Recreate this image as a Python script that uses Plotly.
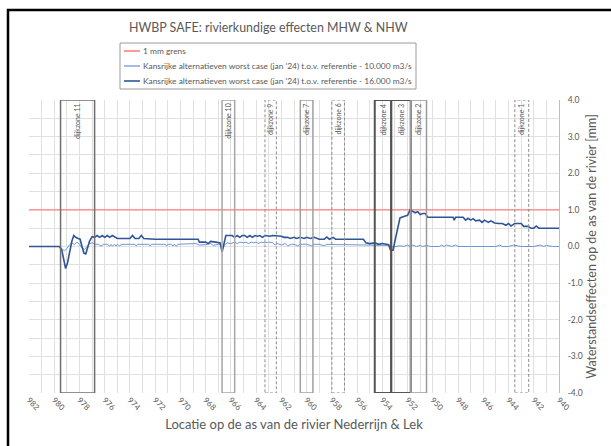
import plotly.graph_objects as go

# ---------------- data ----------------
x_ticks = [982, 980, 978, 976, 974, 972, 970, 968, 966, 964, 962, 960, 958, 956, 954, 952, 950, 948, 946, 944, 942, 940]
y_ticks = [4.0, 3.0, 2.0, 1.0, 0.0, -1.0, -2.0, -3.0, -4.0]

grens_km = [982.0, 940.0]
grens_val = [1.0, 1.0]

light_km = [
    982.0, 981.0, 980.0, 979.6, 979.4, 979.2, 979.0, 978.8, 978.6, 978.4,
    978.2, 978.0, 977.8, 977.6, 977.4, 977.2, 977.0, 976.7, 976.5, 976.3,
    976.1, 975.8, 975.6, 975.5, 975.4, 975.2, 975.1, 975.0, 974.8, 974.7,
    974.0, 973.6, 973.5, 973.4, 972.5, 972.4, 972.3, 971.2, 971.1, 971.0,
    970.7, 970.6, 970.5, 970.3, 970.2, 969.5, 969.0, 968.8, 968.5, 968.0,
    967.6, 967.4, 967.0, 966.8, 966.65, 966.5, 966.3, 966.0, 965.7, 965.5,
    965.3, 965.0, 964.8, 964.6, 964.4, 964.2, 964.0, 963.8, 963.6, 963.3,
    963.0, 962.7, 962.5, 962.3, 962.0, 961.7, 961.5, 961.2, 961.0, 960.7,
    960.5, 960.0, 959.6, 959.4, 959.0, 958.6, 958.4, 958.0, 957.5, 957.0,
    956.5, 956.0, 955.5, 955.0, 954.5, 954.0, 953.5, 953.3, 953.0, 952.6,
    952.3, 952.0, 951.8, 951.6, 951.3, 951.0, 950.8, 950.5, 950.2, 950.0,
    949.5, 949.3, 949.1, 948.9, 948.5, 948.2, 948.0, 947.0, 946.0, 945.5,
    945.0, 944.7, 944.5, 944.0, 943.6, 943.0, 942.0, 941.5, 941.2, 941.0,
    940.5, 940.0,
]
light_val = [
    0.00, 0.00, 0.00, 0.00, -0.05, -0.12, -0.06, 0.04, 0.10, 0.05,
    0.12, 0.06, -0.04, -0.08, 0.00, 0.08, 0.10, 0.06, 0.06, 0.01,
    0.06, 0.06, 0.01, 0.06, 0.01, 0.06, 0.01, 0.06, 0.01, 0.06,
    0.06, 0.06, 0.01, 0.06, 0.06, 0.01, 0.06, 0.06, 0.01, 0.06,
    0.06, 0.01, 0.06, 0.01, 0.06, 0.06, 0.06, 0.08, 0.04, 0.05,
    0.08, 0.03, 0.06, 0.04, -0.06, 0.05, 0.10, 0.08, 0.12, 0.08,
    0.12, 0.10, 0.12, 0.08, 0.12, 0.10, 0.12, 0.08, 0.12, 0.10,
    0.12, 0.10, 0.04, 0.08, 0.04, 0.08, 0.02, 0.06, 0.06, 0.02,
    0.06, 0.06, 0.02, 0.06, 0.06, 0.02, 0.06, 0.05, 0.05, 0.05,
    0.05, 0.05, 0.04, 0.03, 0.04, 0.03, 0.03, -0.02, 0.00, 0.02,
    0.00, 0.04, 0.00, 0.04, 0.00, 0.03, 0.00, 0.03, 0.00, 0.00,
    0.00, 0.04, 0.00, 0.04, 0.00, 0.04, 0.00, 0.00, 0.00, 0.00,
    0.00, 0.04, 0.00, 0.00, 0.04, 0.00, 0.00, 0.04, 0.00, 0.03,
    0.00, 0.00,
]

dark_km = [
    982.0, 981.0, 980.0, 979.6, 979.4, 979.25, 979.1, 978.95, 978.8, 978.6,
    978.45, 978.3, 978.1, 977.95, 977.8, 977.65, 977.5, 977.35, 977.2, 977.0,
    976.8, 976.6, 976.4, 976.2, 976.0, 975.8, 975.6, 975.4, 975.2, 975.0,
    974.5, 974.0, 973.8, 973.6, 973.3, 973.1, 972.9, 972.0, 971.0, 970.0,
    969.0, 968.6, 968.5, 968.0, 967.8, 967.6, 967.2, 967.0, 966.85, 966.7,
    966.55, 966.4, 966.2, 965.9, 965.7, 965.5, 965.3, 965.1, 964.9, 964.7,
    964.5, 964.3, 964.1, 963.9, 963.7, 963.5, 963.3, 963.1, 962.9, 962.7,
    962.2, 962.0, 961.8, 961.5, 961.3, 961.0, 960.8, 960.5, 960.2, 960.0,
    959.7, 959.4, 959.0, 958.6, 958.4, 958.2, 957.9, 957.7, 957.0, 956.0,
    955.5, 955.3, 955.0, 954.6, 954.3, 954.0, 953.7, 953.5, 953.35, 953.15,
    953.0, 952.8, 952.6, 952.3, 952.0, 951.8, 951.6, 951.4, 951.2, 951.0,
    950.8, 950.6, 950.4, 950.0, 949.0, 948.4, 948.3, 948.2, 947.6, 947.4,
    947.2, 947.0, 946.8, 946.6, 946.3, 946.1, 945.9, 945.6, 945.4, 945.1,
    944.8, 944.5, 944.2, 944.0, 943.8, 943.5, 943.3, 943.0, 942.8, 942.5,
    942.2, 942.0, 941.8, 941.6, 941.0, 940.0,
]
dark_val = [
    0.00, 0.00, 0.00, 0.00, -0.10, -0.40, -0.60, -0.45, -0.15, 0.15,
    0.30, 0.25, 0.22, 0.20, 0.00, -0.18, -0.20, -0.05, 0.15, 0.27,
    0.25, 0.30, 0.25, 0.30, 0.25, 0.30, 0.25, 0.30, 0.25, 0.22,
    0.22, 0.22, 0.30, 0.22, 0.22, 0.30, 0.22, 0.20, 0.20, 0.20,
    0.20, 0.20, 0.12, 0.12, 0.08, 0.14, 0.12, 0.10, 0.10, -0.15,
    0.05, 0.30, 0.30, 0.30, 0.25, 0.30, 0.25, 0.30, 0.30, 0.25,
    0.30, 0.25, 0.30, 0.28, 0.30, 0.25, 0.30, 0.28, 0.28, 0.30,
    0.30, 0.28, 0.25, 0.25, 0.22, 0.25, 0.22, 0.25, 0.22, 0.25,
    0.22, 0.25, 0.20, 0.20, 0.26, 0.20, 0.25, 0.20, 0.20, 0.20,
    0.20, 0.10, 0.08, 0.10, 0.06, 0.08, 0.05, 0.05, -0.10, -0.10,
    0.15, 0.50, 0.78, 0.82, 0.85, 1.00, 0.97, 0.92, 0.95, 0.87,
    0.90, 0.90, 0.80, 0.80, 0.80, 0.80, 0.72, 0.80, 0.80, 0.72,
    0.77, 0.72, 0.76, 0.70, 0.72, 0.66, 0.72, 0.66, 0.70, 0.64,
    0.63, 0.63, 0.58, 0.63, 0.56, 0.63, 0.63, 0.63, 0.55, 0.55,
    0.50, 0.50, 0.56, 0.50, 0.50, 0.50,
]

series_names = [
    "1 mm grens",
    "Kansrijke alternatieven worst case (jan '24) t.o.v. referentie - 10.000 m3/s",
    "Kansrijke alternatieven worst case (jan '24) t.o.v. referentie - 16.000 m3/s",
]

zone_names = ["dijkzone 11", "dijkzone 10", "dijkzone 9", "dijkzone 7", "dijkzone 6",
              "dijkzone 4", "dijkzone 3", "dijkzone 2", "dijkzone 1"]
zone_start = [979.5, 966.7, 963.3, 960.5, 958.0, 954.6, 953.3, 951.75, 943.5]
zone_end = [976.8, 965.7, 962.4, 959.5, 957.0, 953.3, 951.75, 950.5, 942.4]

# styles per zone (color, width, dash)
DASH = "3px,2px"
zone_styles = [
    ("#6f6f6f", 1.5, "solid"),
    ("#a6a6a6", 1.5, "solid"),
    ("#8c8c8c", 1.0, DASH),
    ("#a0a0a0", 1.5, "solid"),
    ("#8c8c8c", 1.0, DASH),
    ("#555555", 2.0, "solid"),
    ("#555555", 2.0, "solid"),
    ("#9a9a9a", 1.5, "solid"),
    ("#8c8c8c", 1.0, DASH),
]
series_colors = ["#ff8080", "#6f95d6", "#2f5597"]
series_widths = [1.2, 1.0, 1.6]

FONT = "Lato, 'Open Sans', sans-serif"
GRAY = "#595959"

# plot area in pixels
PL, PR, PT, PB = 29, 559, 100, 393


def px(x):
    return (x - PL) / (PR - PL)


def py(y):
    return (PB - y) / (PB - PT)


fig = go.Figure()
for xs, ys, nm, c, w in zip([grens_km, light_km, dark_km], [grens_val, light_val, dark_val],
                            series_names, series_colors, series_widths):
    fig.add_trace(go.Scatter(x=xs, y=ys, mode="lines", name=nm, showlegend=False,
                             line=dict(color=c, width=w), hoverinfo="skip"))

shapes = []
annotations = []
for name, s, e, (col, w, d) in zip(zone_names, zone_start, zone_end, zone_styles):
    shapes.append(dict(type="rect", xref="x", yref="y", x0=s, x1=e, y0=-4.0, y1=4.0,
                       line=dict(color=col, width=w, dash=d), fillcolor="rgba(0,0,0,0)",
                       layer="above"))
    annotations.append(dict(x=(s + e) / 2, y=3.95, xref="x", yref="y", text=name,
                            showarrow=False, textangle=-90, xanchor="center", yanchor="top",
                            font=dict(family=FONT, size=7, color=GRAY)))

# outer black frame
shapes.append(dict(type="rect", xref="paper", yref="paper",
                   x0=px(8), x1=px(625), y0=py(460), y1=py(10),
                   line=dict(color="black", width=2.5), fillcolor="rgba(0,0,0,0)"))

# custom legend
shapes.append(dict(type="rect", xref="paper", yref="paper",
                   x0=px(120), x1=px(416), y0=py(89), y1=py(43),
                   line=dict(color="#9a9a9a", width=1), fillcolor="white"))
legend_colors = ["#ff8080", "#8faadc", "#2f5597"]
for i, (nm, c) in enumerate(zip(series_names, legend_colors)):
    yy = 51 + 15 * i
    shapes.append(dict(type="line", xref="paper", yref="paper",
                       x0=px(124), x1=px(140), y0=py(yy), y1=py(yy),
                       line=dict(color=c, width=1.6)))
    annotations.append(dict(x=px(141), y=py(yy), xref="paper", yref="paper", text=nm,
                            showarrow=False, xanchor="left", yanchor="middle",
                            font=dict(family=FONT, size=8.4, color=GRAY)))

# title
annotations.append(dict(x=px(268), y=py(28), xref="paper", yref="paper",
                        text="HWBP SAFE: rivierkundige effecten MHW &amp; NHW",
                        showarrow=False, xanchor="center", yanchor="middle",
                        font=dict(family=FONT, size=12.4, color=GRAY)))

fig.update_layout(
    width=611, height=446,
    margin=dict(l=PL, r=611 - PR, t=PT, b=446 - PB),
    paper_bgcolor="white", plot_bgcolor="white",
    font=dict(family=FONT, color=GRAY),
    showlegend=False,
    hovermode=False,
    shapes=shapes,
    annotations=annotations,
)

fig.update_xaxes(
    range=[982, 940], tickvals=x_ticks, ticktext=[str(v) for v in x_ticks],
    tickangle=45, tickfont=dict(family=FONT, size=8, color=GRAY),
    showgrid=True, gridcolor="#e0e0e0", gridwidth=1,
    minor=dict(dtick=1, showgrid=True, gridcolor="#e0e0e0", gridwidth=1),
    zeroline=False, showline=False, ticks="",
    title=dict(text="Locatie op de as van de rivier Nederrijn &amp; Lek",
               font=dict(family=FONT, size=13, color=GRAY), standoff=8),
)
fig.update_yaxes(
    range=[-4, 4], side="right", tickvals=y_ticks, ticktext=[f"{v:.1f}" for v in y_ticks],
    tickfont=dict(family=FONT, size=8.5, color=GRAY),
    showgrid=True, gridcolor="#e0e0e0", gridwidth=1,
    minor=dict(dtick=0.5, showgrid=True, gridcolor="#e0e0e0", gridwidth=1),
    zeroline=False, showline=True, linecolor="#bfbfbf", linewidth=1, mirror=False,
    ticks="", ticklabelstandoff=6,
    title=dict(text="Waterstandseffecten op de as van de rivier [mm]",
               font=dict(family=FONT, size=12.5, color=GRAY), standoff=5),
)

fig.write_html("out.html", config={"displayModeBar": False},
               post_script="document.body.style.margin='0px';")
